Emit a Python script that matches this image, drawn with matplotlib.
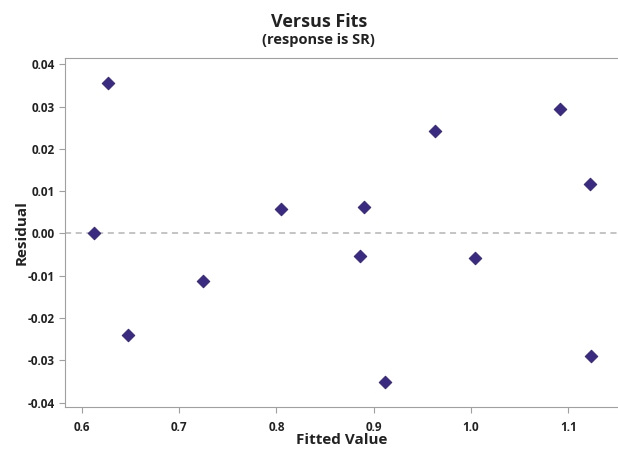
import matplotlib
matplotlib.use("Agg")
import matplotlib.pyplot as plt

plt.rcParams['font.family'] = ['Open Sans', 'DejaVu Sans']

# residuals vs fitted values
fitted = [0.612, 0.627, 0.647, 0.7245, 0.805, 0.886, 0.890, 0.912, 0.963, 1.004, 1.092, 1.1226, 1.1237]
residual = [0.0000, 0.0356, -0.0240, -0.0112, 0.0058, -0.0053, 0.0063, -0.0351, 0.0242, -0.0058, 0.0294, 0.0117, -0.0290]

x_ticks = [0.6, 0.7, 0.8, 0.9, 1.0, 1.1]
y_ticks = [-0.04, -0.03, -0.02, -0.01, 0.00, 0.01, 0.02, 0.03, 0.04]

fig = plt.figure(figsize=(6.18, 4.51), dpi=100)
ax = fig.add_axes([0.105, 0.098, 0.897, 0.7745])

ax.axhline(0, color='#b4b4b4', linestyle=(0, (4, 3)), linewidth=1.1, zorder=1)
ax.scatter(fitted, residual, marker='D', s=40, color='#3a2a80', zorder=3,
           edgecolors='#3a2a80', linewidths=0.8)

ax.set_xlim(0.5825, 1.1525)
ax.set_ylim(-0.041, 0.0416)
ax.set_xticks(x_ticks)
ax.set_xticklabels([f'{v:.1f}' for v in x_ticks])
ax.set_yticks(y_ticks)
ax.set_yticklabels([f'{v:.2f}' for v in y_ticks])

for s in ['left', 'bottom', 'top']:
    ax.spines[s].set_color('#a0a0a0')
ax.spines['right'].set_visible(False)
ax.tick_params(colors='#a0a0a0', labelcolor='#222222', length=4, labelsize=8.5)
ax.tick_params(axis='x', pad=6)
for lab in ax.get_xticklabels() + ax.get_yticklabels():
    lab.set_fontweight('bold')

ax.set_xlabel('Fitted Value', fontsize=11, fontweight='bold', color='#222222')
ax.set_ylabel('Residual', fontsize=11, fontweight='bold', color='#222222')
ax.xaxis.set_label_coords(0.5, -0.095)
ax.yaxis.set_label_coords(-0.078, 0.5)
ax.xaxis.label.set_va('center')
ax.yaxis.label.set_va('center')

fig.text(0.516, 0.951, 'Versus Fits', ha='center', va='center', fontsize=13, fontweight='bold', color='#222222')
fig.text(0.516, 0.912, '(response is SR)', ha='center', va='center', fontsize=10.5, fontweight='bold', color='#222222')

fig.savefig('out.png', dpi=100)
